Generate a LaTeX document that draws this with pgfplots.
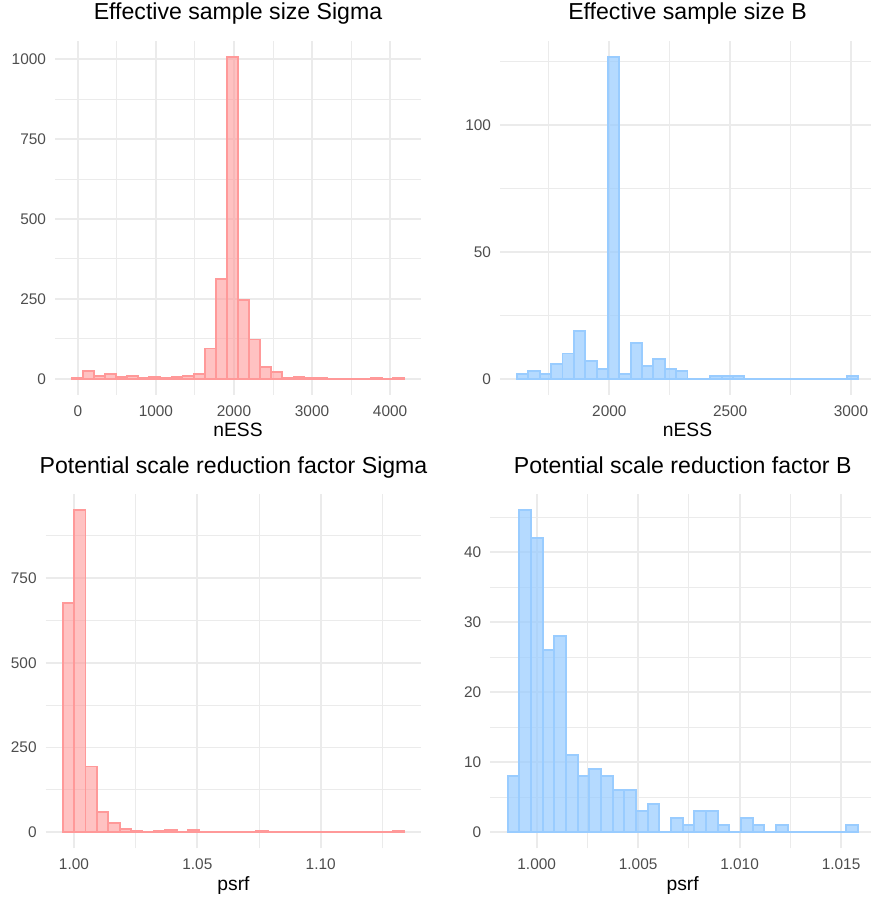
\documentclass[border=0pt]{standalone}
\usepackage{pgfplots}
\pgfplotsset{compat=1.18}
\usepackage{fontspec}
\setmainfont{Liberation Sans}

\definecolor{gridgrey}{HTML}{EBEBEB}
\definecolor{ticktext}{HTML}{4D4D4D}
\definecolor{redbar}{HTML}{FF9999}
\definecolor{bluebar}{HTML}{99CCFF}

% ggplot-like theme_minimal panel, 1px = 1pt
\pgfplotsset{
  hist/.style={
    scale only axis,
    anchor=south west,
    axis line style={draw=none},
    major tick length=0pt, minor tick length=0pt,
    xmajorgrids, ymajorgrids, xminorgrids, yminorgrids,
    major grid style={draw=gridgrey, line width=1.87pt},
    minor grid style={draw=gridgrey, line width=0.93pt},
    tick label style={font=\fontsize{15.4}{18}\selectfont, text=ticktext, inner sep=0pt},
    xticklabel style={anchor=base, yshift=-21.4pt},
    yticklabel style={anchor=east, xshift=-8.8pt},
    title style={font=\fontsize{23.1}{27}\selectfont, at={(axis description cs:0.5,1)}, anchor=base, yshift=14.8pt},
    xlabel style={font=\fontsize{19.25}{23}\selectfont, at={(axis description cs:0.5,0)}, anchor=base, yshift=-42pt},
  },
  redhist/.style={ybar interval, fill=redbar, fill opacity=0.6, draw=redbar, line width=1.87pt},
  bluehist/.style={ybar interval, fill=bluebar, fill opacity=0.72, draw=bluebar, line width=1.87pt},
}

\begin{document}
\begin{tikzpicture}
\path[use as bounding box] (0,0) rectangle (871pt,898pt);

% Effective sample size Sigma
\begin{axis}[hist,
  at={(55pt,503pt)}, width=366pt, height=354.3pt,
  xmin=-293, xmax=4396, ymin=-50.35, ymax=1057.35,
  xtick={0,1000,2000,3000,4000}, xticklabels={0,1000,2000,3000,4000},
  minor xtick={500,1500,2500,3500},
  ytick={0,250,500,750,1000}, yticklabels={0,250,500,750,1000},
  minor ytick={125,375,625,875},
  title={Effective sample size Sigma}, xlabel={nESS}]
\addplot[redhist] coordinates {
(-80,2) (62.1,25) (204.2,8) (346.3,15) (488.4,5) (630.5,9) (772.6,4) (914.7,5)
(1056.8,3) (1198.9,5) (1341,9) (1483.1,15) (1625.2,95) (1767.3,311) (1909.4,1007)
(2051.5,246) (2193.6,123) (2335.7,38) (2477.8,22) (2619.9,4) (2762,5) (2904.1,2)
(3046.2,4) (3188.3,1) (3330.4,1) (3472.5,1) (3614.6,1) (3756.7,3) (3898.8,1)
(4040.9,3) (4183,0)
};
\end{axis}

% Effective sample size B
\begin{axis}[hist,
  at={(500pt,503pt)}, width=375pt, height=354.3pt,
  xmin=1547.5, xmax=3099.5, ymin=-6.35, ymax=133.35,
  xtick={2000,2500,3000}, xticklabels={2000,2500,3000},
  minor xtick={1750,2250,2750},
  ytick={0,50,100}, yticklabels={0,50,100},
  minor ytick={25,75,125},
  title={Effective sample size B}, xlabel={nESS}]
\addplot[bluehist] coordinates {
(1618,2) (1665.0,3) (1712.1,2) (1759.1,6) (1806.1,10) (1853.2,19) (1900.2,7)
(1947.2,4) (1994.2,127) (2041.3,2) (2088.3,14) (2135.3,5) (2182.4,8) (2229.4,4)
(2276.4,3) (2323.5,0) (2370.5,0) (2417.5,1) (2464.5,1) (2511.6,1) (2558.6,0)
(2605.6,0) (2652.7,0) (2699.7,0) (2746.7,0) (2793.8,0) (2840.8,0) (2887.8,0)
(2934.8,0) (2981.9,1) (3028.9,0)
};
\end{axis}

% Potential scale reduction factor Sigma
\begin{axis}[hist,
  at={(45.6pt,49.6pt)}, width=375.8pt, height=354.2pt,
  xmin=0.9885, xmax=1.1408, ymin=-47.5, ymax=997.5,
  xtick={1,1.05,1.1}, xticklabels={1.00,1.05,1.10},
  minor xtick={1.025,1.075,1.125},
  ytick={0,250,500,750}, yticklabels={0,250,500,750},
  minor ytick={125,375,625,875},
  title={Potential scale reduction factor Sigma}, xlabel={psrf}]
\addplot[redhist] coordinates {
(0.99542,677) (1.00004,950) (1.00465,194) (1.00927,60) (1.01388,27) (1.01850,11)
(1.02312,3) (1.02773,2) (1.03235,3) (1.03696,8) (1.04158,1) (1.04620,6)
(1.05081,1) (1.05543,1) (1.06004,1) (1.06466,1) (1.06928,1) (1.07389,3)
(1.07851,1) (1.08312,1) (1.08774,1) (1.09236,1) (1.09697,1) (1.10159,1)
(1.10620,1) (1.11082,1) (1.11544,1) (1.12005,1) (1.12467,1) (1.12928,3)
(1.13390,0)
};
\end{axis}

% Potential scale reduction factor B
\begin{axis}[hist,
  at={(490.2pt,49.6pt)}, width=385pt, height=354.2pt,
  xmin=0.997709, xmax=1.016683, ymin=-2.3, ymax=48.3,
  xtick={1,1.005,1.01,1.015}, xticklabels={1.000,1.005,1.010,1.015},
  minor xtick={1.0025,1.0075,1.0125},
  ytick={0,10,20,30,40}, yticklabels={0,10,20,30,40},
  minor ytick={5,15,25,35,45},
  title={Potential scale reduction factor B}, xlabel={psrf}]
\addplot[bluehist] coordinates {
(0.998571,8) (0.999146,46) (0.999721,42) (1.000296,26) (1.000871,28) (1.001446,11)
(1.002021,8) (1.002596,9) (1.003171,8) (1.003746,6) (1.004321,6) (1.004896,3)
(1.005471,4) (1.006046,0) (1.006621,2) (1.007196,1) (1.007771,3) (1.008346,3)
(1.008921,1) (1.009496,0) (1.010071,2) (1.010646,1) (1.011221,0) (1.011796,1)
(1.012371,0) (1.012946,0) (1.013521,0) (1.014096,0) (1.014671,0) (1.015246,1)
(1.015821,0)
};
\end{axis}
\end{tikzpicture}
\end{document}
